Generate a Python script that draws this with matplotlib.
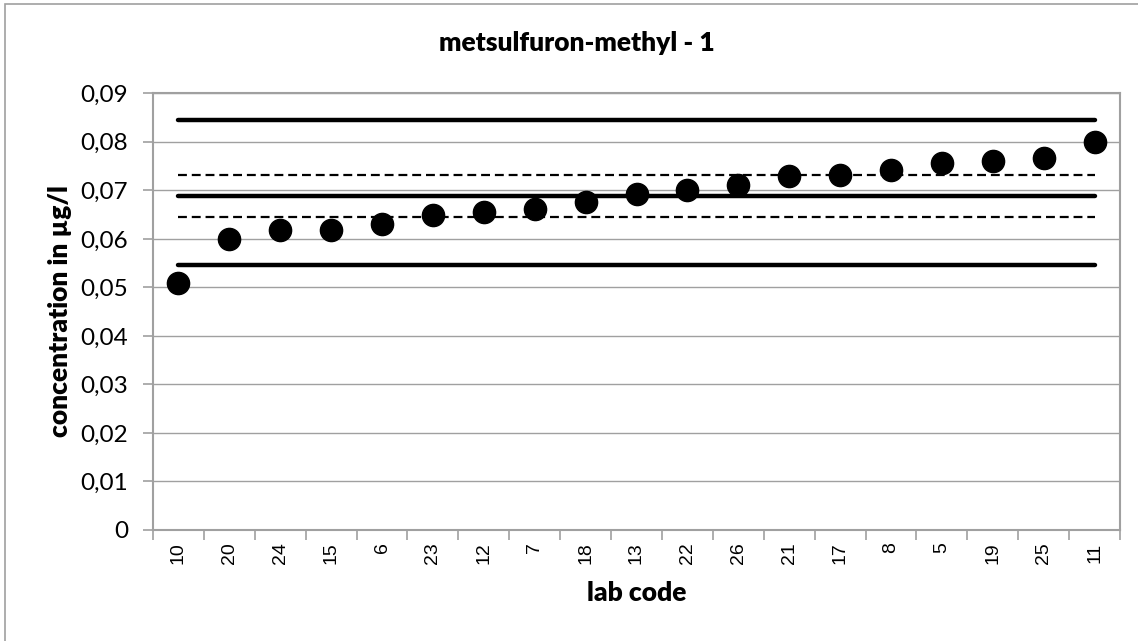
import matplotlib
matplotlib.use("Agg")
import matplotlib.pyplot as plt
from matplotlib.patches import Rectangle
from matplotlib.ticker import FixedLocator, FuncFormatter

# lab codes, sorted by reported concentration
lab_codes = ["10", "20", "24", "15", "6", "23", "12", "7", "18", "13",
             "22", "26", "21", "17", "8", "5", "19", "25", "11"]
concentration = [0.0510, 0.0600, 0.0618, 0.0618, 0.0630, 0.0650, 0.0656, 0.0662, 0.0677, 0.0692,
                 0.0700, 0.0710, 0.0729, 0.0731, 0.0742, 0.0756, 0.0760, 0.0766, 0.0800]

# reference value and limits
assigned_value = 0.0688
tolerance_limits = [0.0546, 0.0846]
uncertainty_limits = [0.0646, 0.0731]

W, H, DPI = 1138, 641, 100
fig = plt.figure(figsize=(W / DPI, H / DPI), dpi=DPI)
fig.patch.set_facecolor("white")

# chart border (only left/top edges fall inside the image)
fig.patches.append(Rectangle((5 / W, -0.05), 1.2, 1 - 4 / H + 0.05, transform=fig.transFigure,
                             fill=False, edgecolor="#a0a0a0", linewidth=1.2))

ax = fig.add_axes([153 / W, 1 - 530 / H, (1120 - 153) / W, (530 - 93.3) / H])

x = list(range(len(lab_codes)))
grey = "#a0a0a0"

ax.set_ylim(0, 0.09)
ax.set_xlim(-0.5, len(lab_codes) - 0.5)
ax.set_yticks([i / 100 for i in range(10)])
ax.yaxis.set_major_formatter(FuncFormatter(lambda v, p: "0" if v == 0 else f"{v:.2f}".replace(".", ",")))
ax.grid(axis="y", color=grey, linewidth=1.0)
ax.set_axisbelow(True)

# reference lines
for v in tolerance_limits + [assigned_value]:
    ax.hlines(v, x[0], x[-1], color="black", linewidth=3.2, capstyle="round", zorder=2)
for v in uncertainty_limits:
    ax.hlines(v, x[0], x[-1], color="black", linewidth=1.6, linestyles=(0, (4, 2.2)), zorder=2)

ax.plot(x, concentration, "o", color="black", markersize=16, zorder=3)

# x ticks: labels at categories, tick marks at boundaries
ax.set_xticks(x)
ax.set_xticklabels(lab_codes)
ax.xaxis.set_minor_locator(FixedLocator([i - 0.5 for i in range(len(lab_codes) + 1)]))
ax.tick_params(axis="x", which="major", length=0, pad=9, labelrotation=90,
               labelsize=14, labelfontfamily="Liberation Sans")
ax.tick_params(axis="x", which="minor", length=7, color=grey, width=1.2)
ax.tick_params(axis="y", length=7, color=grey, width=1.2, pad=11,
               labelsize=17.5, labelfontfamily="Lato")

for s in ax.spines.values():
    s.set_color(grey)
    s.set_linewidth(1.5)

ax.set_ylabel("concentration in µg/l", family="Lato", fontweight="heavy", fontsize=19)
ax.yaxis.set_label_coords(60 / W, 1 - 311 / H, transform=fig.transFigure)
ax.yaxis.label.set_va("center")
ax.set_xlabel("lab code", family="Lato", fontweight="heavy", fontsize=19)
ax.xaxis.set_label_coords(637 / W, 1 - 593 / H, transform=fig.transFigure)
ax.xaxis.label.set_va("center")

fig.text(577 / W, 1 - 43 / H, "metsulfuron-methyl - 1", ha="center", va="center",
         family="Lato", fontweight="heavy", fontsize=19)

fig.savefig("out.png", dpi=DPI)
